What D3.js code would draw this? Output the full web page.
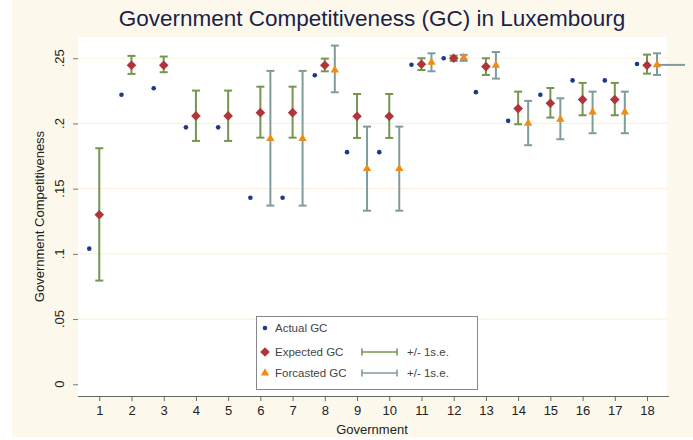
<!DOCTYPE html>
<html><head><meta charset="utf-8">
<script src="https://cdn.jsdelivr.net/npm/d3@7"></script>
<style>body{margin:0;background:#fff;} text{font-family:"Liberation Sans",Arial,sans-serif;}</style>
</head><body><svg id="c" width="693" height="440"></svg>
<script>
const governments = [1,2,3,4,5,6,7,8,9,10,11,12,13,14,15,16,17,18];
const actualGC   = [0.104,0.222,0.227,0.197,0.197,0.143,0.143,0.237,0.178,0.178,0.245,0.250,0.224,0.202,0.222,0.233,0.233,0.2456];
const expectedGC = [0.130,0.2446,0.2446,0.2058,0.2058,0.2083,0.2083,0.2446,0.2055,0.2055,0.2454,0.250,0.2436,0.2114,0.2155,0.2183,0.2183,0.2446];
const expectedHi = [0.181,0.2518,0.2513,0.2252,0.2252,0.2282,0.2282,0.2497,0.2226,0.2226,0.250,0.252,0.250,0.2244,0.2272,0.2311,0.2311,0.2528];
const expectedLo = [0.0795,0.238,0.2393,0.1866,0.1866,0.1891,0.1891,0.240,0.1889,0.1889,0.241,0.248,0.2372,0.1994,0.2045,0.2063,0.2063,0.2382];
const forecastGC = [null,null,null,null,null,0.1883,0.1883,0.241,0.1653,0.1653,0.2469,0.2505,0.2446,0.2001,0.2032,0.2088,0.2088,0.2449];
const forecastHi = [null,null,null,null,null,0.2403,0.2403,0.2597,0.1976,0.1976,0.2538,0.2526,0.2548,0.2173,0.2193,0.2244,0.2244,0.2538];
const forecastLo = [null,null,null,null,null,0.137,0.137,0.2239,0.1331,0.1331,0.240,0.248,0.2344,0.1833,0.1879,0.1925,0.1925,0.2372];
const yTicks = [0,0.05,0.1,0.15,0.2,0.25];
const yTickLabels = ["0",".05",".1",".15",".2",".25"];

const C = {navy:"#1b3a8c", red:"#b0343a", orange:"#f08c10", green:"#759550", teal:"#7f9c9c", grid:"#fbf1dc"};
const svg = d3.select("#c");
svg.append("rect").attr("x",12).attr("y",0).attr("width",681).attr("height",437).attr("fill","#fdf8ec");
const L=78,R=667,T=37,B=396;
svg.append("rect").attr("x",L).attr("y",T).attr("width",R-L).attr("height",B-T).attr("fill","#fff");

const x = d3.scaleLinear().domain([0.34,18.62]).range([L,R]);
const y = d3.scaleLinear().domain([-0.009,0.2663]).range([B,T]);

// title
svg.append("text").attr("x",372).attr("y",26).attr("text-anchor","middle")
  .attr("font-size",22.5).attr("fill","#1c1f4a").text("Government Competitiveness (GC) in Luxembourg");

// grid
svg.append("g").selectAll("line").data(yTicks.filter(d=>d>0)).join("line")
  .attr("x1",L).attr("x2",R).attr("y1",d=>y(d)).attr("y2",d=>y(d))
  .attr("stroke",C.grid).attr("stroke-width",1.2);

// y axis (ticks only)
const ya = svg.append("g").attr("transform",`translate(${L},0)`)
  .call(d3.axisLeft(y).tickValues(yTicks).tickSize(5).tickPadding(0).tickFormat((d,i)=>yTickLabels[i]));
ya.select(".domain").remove();
ya.selectAll("line").attr("stroke","#777");
ya.selectAll("text").remove();
svg.append("g").selectAll("text").data(yTicks).join("text")
  .attr("transform",(d)=>`translate(64,${y(d)}) rotate(-90)`).attr("text-anchor","middle")
  .attr("font-size",13).attr("fill","#222").text((d,i)=>yTickLabels[i]);
svg.append("text").attr("transform",`translate(44,${(T+B)/2}) rotate(-90)`).attr("text-anchor","middle")
  .attr("font-size",13).attr("fill","#222").text("Government Competitiveness");

// x axis
const xa = svg.append("g").attr("transform",`translate(0,${B})`)
  .call(d3.axisBottom(x).tickValues(governments).tickSize(5).tickPadding(5).tickFormat(d3.format("d")));
xa.select(".domain").attr("stroke","#666").attr("d",`M${L},0.5H${R+2}`);
xa.selectAll("line").attr("stroke","#666");
xa.selectAll("text").attr("font-size",13).attr("fill","#222").style("font-family","Liberation Sans, Arial, sans-serif");
svg.append("text").attr("x",372).attr("y",434).attr("text-anchor","middle").attr("font-size",13).attr("fill","#222").text("Government");

const OFF = 10, CAP = 4;
const data = governments.map((g,i)=>({g,a:actualGC[i],e:expectedGC[i],eh:expectedHi[i],el:expectedLo[i],f:forecastGC[i],fh:forecastHi[i],fl:forecastLo[i]}));

function errbar(sel, cx, hi, lo, color){
  const g = sel.append("g").attr("stroke",color).attr("stroke-width",2);
  g.append("line").attr("x1",cx).attr("x2",cx).attr("y1",y(hi)).attr("y2",y(lo));
  g.append("line").attr("x1",cx-CAP).attr("x2",cx+CAP).attr("y1",y(hi)).attr("y2",y(hi));
  g.append("line").attr("x1",cx-CAP).attr("x2",cx+CAP).attr("y1",y(lo)).attr("y2",y(lo));
}
const marks = svg.append("g");
const last = data[data.length-1];
marks.append("line").attr("x1",x(last.g)+OFF).attr("x2",685).attr("y1",y(last.f)).attr("y2",y(last.f))
  .attr("stroke",C.teal).attr("stroke-width",2);
data.forEach(d=>{
  errbar(marks, x(d.g), d.eh, d.el, C.green);
  if(d.f!=null) errbar(marks, x(d.g)+OFF, d.fh, d.fl, C.teal);
});
const diamond = "M0,-4.8L4.8,0L0,4.8L-4.8,0Z";
const tri = d3.symbol().type(d3.symbolTriangle).size(30);
data.forEach(d=>{
  marks.append("circle").attr("cx",x(d.g)-OFF).attr("cy",y(d.a)).attr("r",2.3).attr("fill",C.navy);
  marks.append("path").attr("d",diamond).attr("transform",`translate(${x(d.g)},${y(d.e)})`).attr("fill",C.red);
  if(d.f!=null) marks.append("path").attr("d",tri).attr("transform",`translate(${x(d.g)+OFF},${y(d.f)})`).attr("fill",C.orange);
});

// legend
const lg = svg.append("g");
lg.append("rect").attr("x",256.5).attr("y",316.5).attr("width",221).attr("height",73).attr("fill","#fff").attr("stroke","#888");
lg.append("circle").attr("cx",265).attr("cy",328).attr("r",2.3).attr("fill",C.navy);
lg.append("path").attr("d",diamond).attr("transform","translate(265,352)").attr("fill",C.red);
lg.append("path").attr("d",tri).attr("transform","translate(265,373)").attr("fill",C.orange);
[["Actual GC",328],["Expected GC",352],["Forcasted GC",373]].forEach(([t,yy])=>{
  lg.append("text").attr("x",275).attr("y",yy+4).attr("font-size",11.5).attr("fill","#444").text(t);
});
[[352,C.green],[373,C.teal]].forEach(([yy,c])=>{
  const g = lg.append("g").attr("stroke",c).attr("stroke-width",1.6);
  g.append("line").attr("x1",362).attr("x2",397).attr("y1",yy).attr("y2",yy);
  g.append("line").attr("x1",362).attr("x2",362).attr("y1",yy-3.5).attr("y2",yy+3.5);
  g.append("line").attr("x1",397).attr("x2",397).attr("y1",yy-3.5).attr("y2",yy+3.5);
  lg.append("text").attr("x",407).attr("y",yy+4).attr("font-size",11.5).attr("fill","#444").text("+/- 1s.e.");
});
</script></body></html>
